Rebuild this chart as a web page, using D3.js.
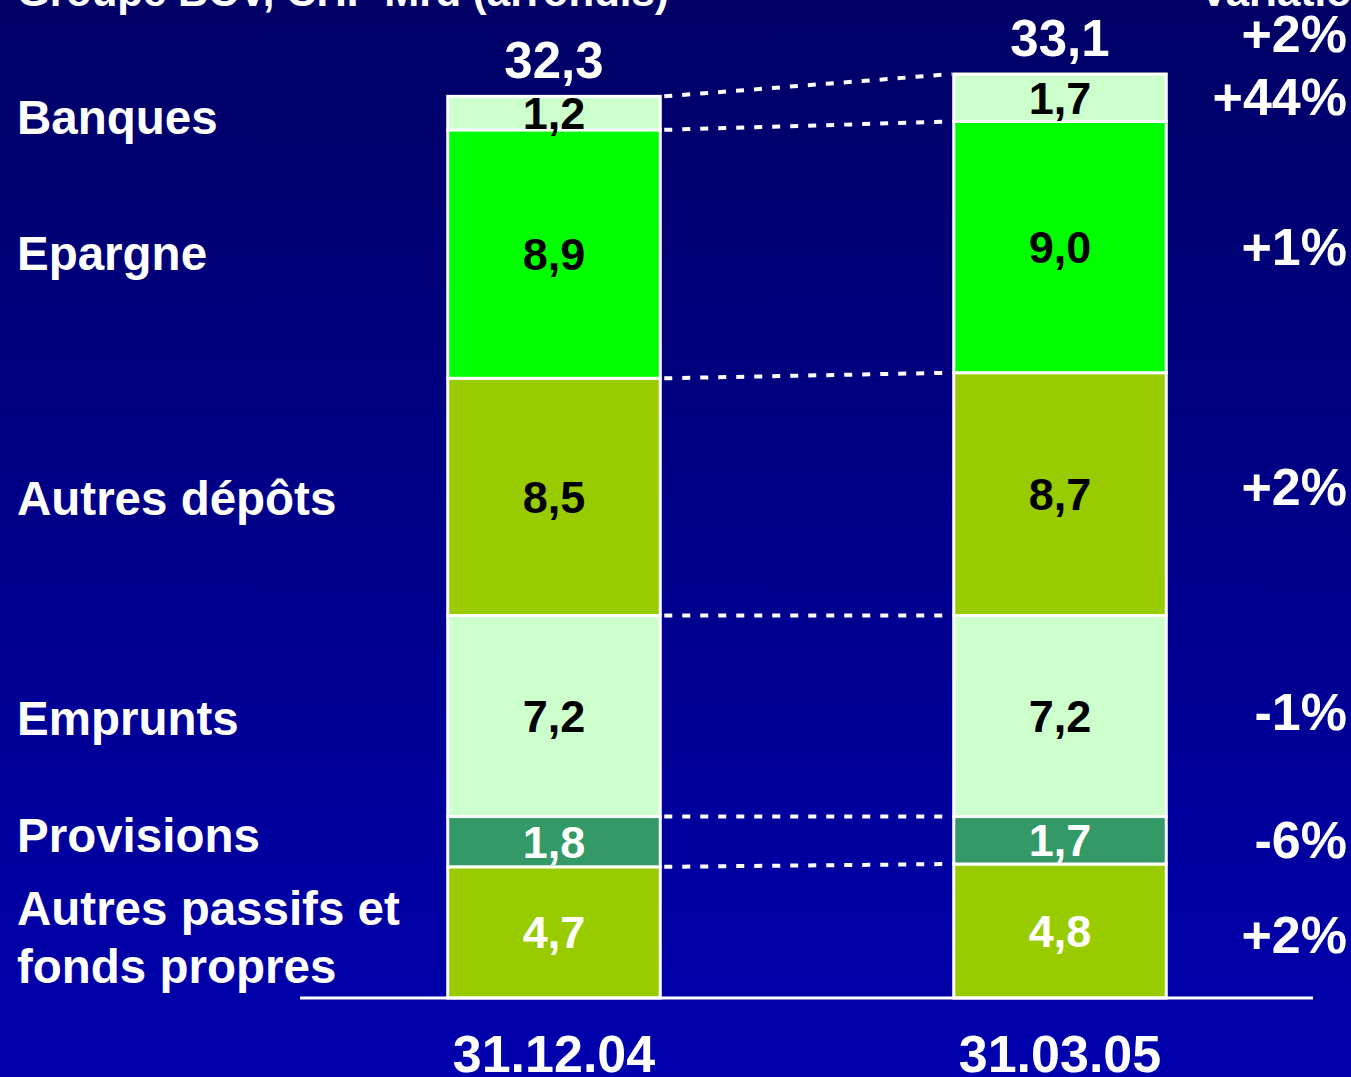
<!DOCTYPE html>
<html><head><meta charset="utf-8">
<script src="https://cdn.jsdelivr.net/npm/d3@7"></script>
<style>html,body{margin:0;padding:0;overflow:hidden;background:#000080}</style>
</head><body>
<script>
const dates = ["31.12.04", "31.03.05"];
const categories = ["Autres passifs et fonds propres", "Provisions", "Emprunts", "Autres dépôts", "Epargne", "Banques"];
const values2004 = [4.7, 1.8, 7.2, 8.5, 8.9, 1.2];
const values2005 = [4.8, 1.7, 7.2, 8.7, 9.0, 1.7];
const totals = ["32,3", "33,1"];
const variations = ["+2%", "-6%", "-1%", "+2%", "+1%", "+44%"];
const totalVariation = "+2%";
const colors = ["#99CC00", "#339966", "#CCFFCC", "#99CC00", "#00FF00", "#CCFFCC"];
const labelColors = ["#FFFFFF", "#FFFFFF", "#000000", "#000000", "#000000", "#000000"];
const catLabelLines = [["Autres passifs et", "fonds propres"], ["Provisions"], ["Emprunts"], ["Autres dépôts"], ["Epargne"], ["Banques"]];
const catLabelY = [[925, 983], [852], [735], [515], [270], [134]];
const title = "Groupe BCV, CHF Mrd (arrondis)";
const varTitle = "Variation";

const W = 1351, H = 1077;
const font = "'Liberation Sans', Arial, sans-serif";
const svg = d3.select("body").append("svg").attr("width", W).attr("height", H);

const defs = svg.append("defs");
const grad = defs.append("linearGradient").attr("id", "bg").attr("x1", 0).attr("y1", 0).attr("x2", 0).attr("y2", 1);
grad.append("stop").attr("offset", 0).attr("stop-color", "#000066");
grad.append("stop").attr("offset", 1).attr("stop-color", "#0000AE");
svg.append("rect").attr("width", W).attr("height", H).attr("fill", "url(#bg)");

const x = d3.scaleBand().domain(dates).range([301, 1313]).paddingInner(0.58).paddingOuter(0.29);
const y = d3.scaleLinear().domain([0, 35]).range([998, 21]);

const series = [values2004, values2005];
const stacks = series.map(vals => {
  let acc = 0;
  return vals.map((v, i) => { const s = {y0: acc, y1: acc + v, v, i}; acc += v; return s; });
});

// connectors
const conn = svg.append("g");
for (let i = 0; i < categories.length; i++) {
  const a = stacks[0][i].y1, b = stacks[1][i].y1;
  conn.append("line")
    .attr("x1", x(dates[0]) + x.bandwidth() + 4).attr("y1", y(a))
    .attr("x2", x(dates[1]) - 2).attr("y2", y(b))
    .attr("stroke", "#fff").attr("stroke-width", 4).attr("stroke-dasharray", "8,10");
}

// bars
dates.forEach((d, k) => {
  const g = svg.append("g");
  g.selectAll("rect").data(stacks[k]).join("rect")
    .attr("x", x(d)).attr("width", x.bandwidth())
    .attr("y", s => y(s.y1)).attr("height", s => y(s.y0) - y(s.y1))
    .attr("fill", s => colors[s.i]).attr("stroke", "#fff").attr("stroke-width", 3);
  g.selectAll("text").data(stacks[k]).join("text")
    .attr("x", x(d) + x.bandwidth() / 2)
    .attr("y", s => (y(s.y0) + y(s.y1)) / 2 + 16)
    .attr("text-anchor", "middle")
    .attr("font-family", font).attr("font-weight", "bold").attr("font-size", 45)
    .attr("fill", s => labelColors[s.i])
    .text(s => d3.format(".1f")(s.v).replace(".", ","));
  const top = stacks[k][stacks[k].length - 1].y1;
  svg.append("text").attr("x", x(d) + x.bandwidth() / 2).attr("y", y(top) - 18)
    .attr("text-anchor", "middle").attr("font-family", font).attr("font-weight", "bold")
    .attr("font-size", 51).attr("fill", "#fff").text(totals[k]);
  svg.append("text").attr("x", x(d) + x.bandwidth() / 2).attr("y", 1072)
    .attr("text-anchor", "middle").attr("font-family", font).attr("font-weight", "bold")
    .attr("font-size", 52).attr("fill", "#fff").text(d);
});

// axis line
svg.append("line").attr("x1", 300).attr("x2", 1313).attr("y1", y(0)).attr("y2", y(0))
  .attr("stroke", "#fff").attr("stroke-width", 3);

// category labels
catLabelLines.forEach((lines, i) => {
  lines.forEach((t, j) => {
    svg.append("text").attr("x", 17).attr("y", catLabelY[i][j])
      .attr("font-family", font).attr("font-weight", "bold").attr("font-size", 47.5)
      .attr("fill", "#fff").text(t);
  });
});

// variations
const varY = [935, 840, 712, 487, 247, 97];
variations.forEach((t, i) => {
  svg.append("text").attr("x", 1347).attr("y", varY[i] + 18)
    .attr("text-anchor", "end").attr("font-family", font).attr("font-weight", "bold")
    .attr("font-size", 52).attr("fill", "#fff").text(t);
});
svg.append("text").attr("x", 1347).attr("y", 52)
  .attr("text-anchor", "end").attr("font-family", font).attr("font-weight", "bold")
  .attr("font-size", 52).attr("fill", "#fff").text(totalVariation);

// titles (cut at top)
svg.append("text").attr("x", 17).attr("y", 6).attr("font-family", font).attr("font-weight", "bold")
  .attr("font-size", 42).attr("fill", "#fff").text(title);
svg.append("text").attr("x", 1200).attr("y", 6).attr("font-family", font).attr("font-weight", "bold")
  .attr("font-size", 42).attr("fill", "#fff").text(varTitle);
</script>
</body></html>
